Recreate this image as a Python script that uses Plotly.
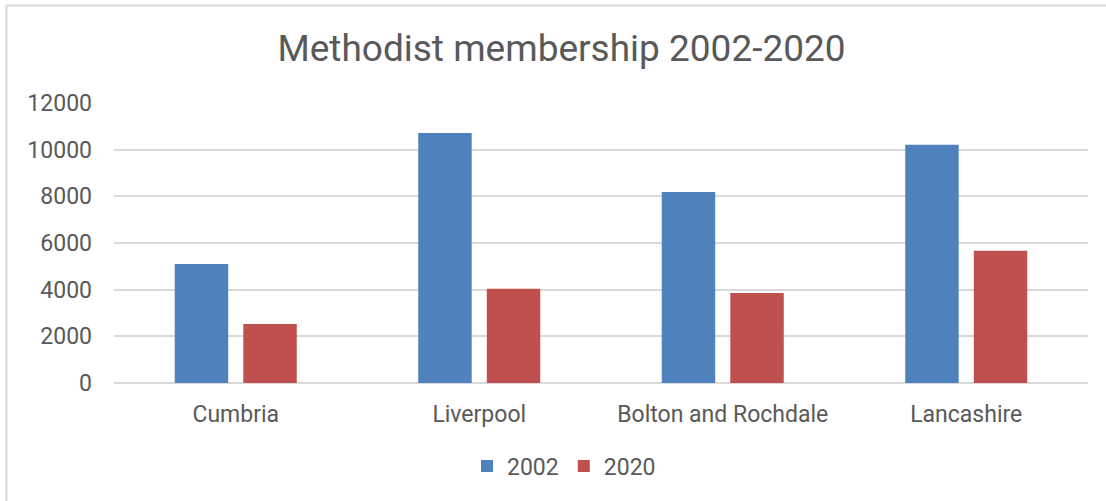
import plotly.graph_objects as go

categories = ["Cumbria", "Liverpool", "Bolton and Rochdale", "Lancashire"]
values_2002 = [5100, 10710, 8190, 10210]
values_2020 = [2530, 4040, 3860, 5670]
y_ticks = [0, 2000, 4000, 6000, 8000, 10000, 12000]
y_tick_labels = [str(v) for v in y_ticks]

W, H = 1106, 501
L, R, T, B = 114, 18, 103, 118
pw, ph = W - L - R, H - T - B

fig = go.Figure()
fig.add_trace(go.Bar(name="2002", x=categories, y=values_2002,
                     marker=dict(color="#4F81BD", line=dict(width=0))))
fig.add_trace(go.Bar(name="2020", x=categories, y=values_2020,
                     marker=dict(color="#C0504D", line=dict(width=0))))

def px_x(x):
    return (x - L) / pw

def px_y(y):
    return (H - B - y) / ph

fig.update_layout(
    width=W, height=H,
    margin=dict(l=L, r=R, t=T, b=B),
    paper_bgcolor="white", plot_bgcolor="white",
    font=dict(family="Roboto", color="#595959", size=23),
    barmode="group", bargap=0.437, bargroupgap=0.22,
    title=dict(text="Methodist membership 2002-2020", x=561.5 / W, xanchor="center",
               y=1 - 48 / H, yanchor="middle",
               font=dict(size=37, color="#595959", family="Roboto")),
    legend=dict(orientation="h", x=px_x(564), xanchor="center",
                y=px_y(466), yanchor="middle", font=dict(size=23),
                itemwidth=30, traceorder="normal"),
    xaxis=dict(showgrid=False, showline=False, ticks="", ticklabelstandoff=15,
               tickfont=dict(size=23)),
    yaxis=dict(range=[0, 12000], tickvals=y_ticks, ticktext=y_tick_labels,
               showgrid=True, gridcolor="#D9D9D9", gridwidth=1.5, zeroline=True,
               zerolinecolor="#D9D9D9", zerolinewidth=1.5, showline=False,
               ticks="", ticklabelstandoff=21, tickfont=dict(size=23)),
    shapes=[
        dict(type="line", xref="paper", yref="paper",
             x0=px_x(6.5), x1=px_x(W + 5), y0=px_y(5.5), y1=px_y(5.5),
             line=dict(color="#D9D9D9", width=2)),
        dict(type="line", xref="paper", yref="paper",
             x0=px_x(6.5), x1=px_x(6.5), y0=px_y(5.5), y1=px_y(H + 5),
             line=dict(color="#D9D9D9", width=2)),
    ],
)

fig.write_html("out.html", config={"displayModeBar": False},
               post_script="document.body.style.margin='0';document.body.style.overflow='hidden';")
